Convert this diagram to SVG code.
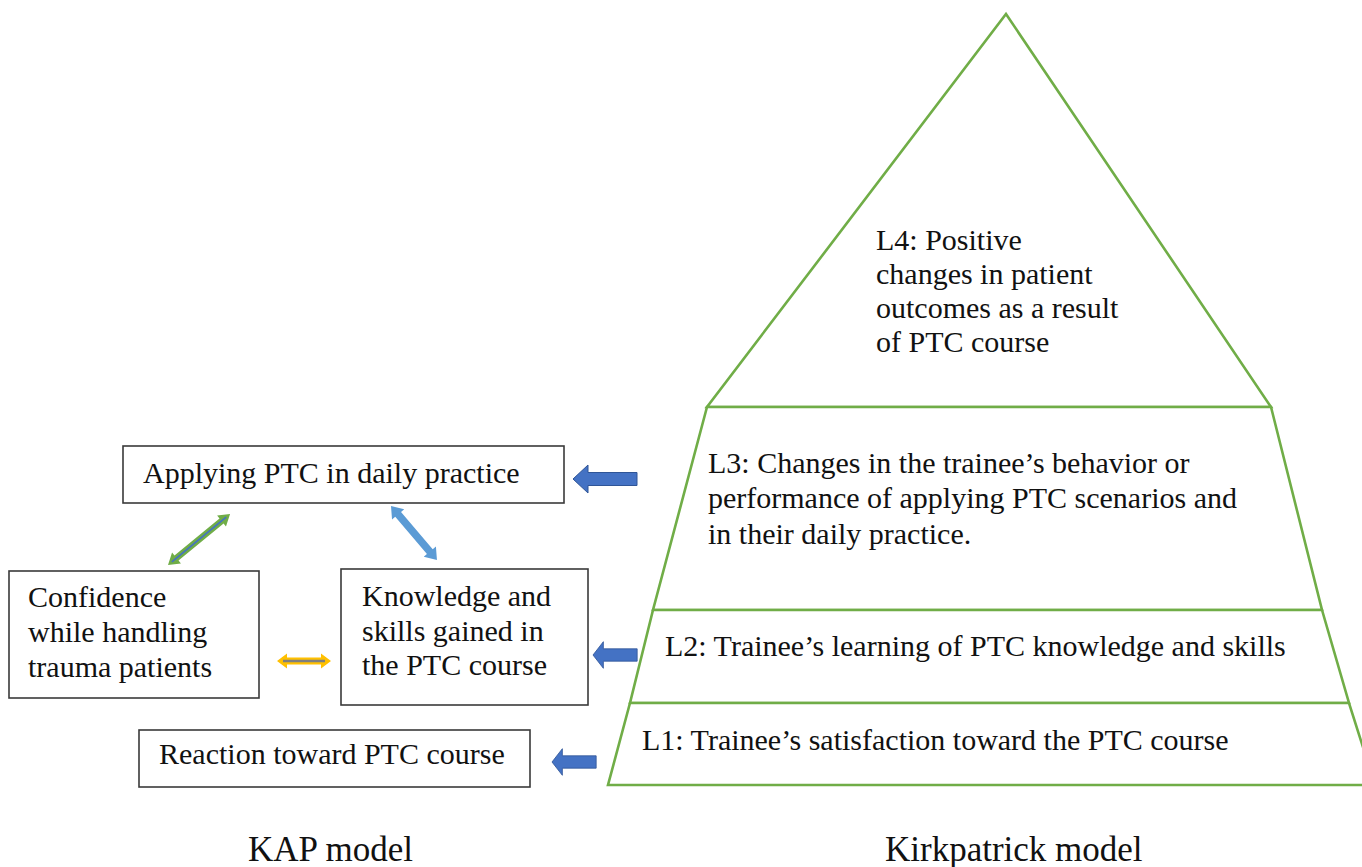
<svg xmlns="http://www.w3.org/2000/svg" width="1362" height="867" viewBox="0 0 1362 867">
<style>
.bg{fill:#ffffff}
.box{fill:#ffffff;stroke:#3a3a3a;stroke-width:1.6}
.lvl{fill:#ffffff;stroke:#70AD47;stroke-width:2.6;stroke-linejoin:miter}
.t{font-family:"Liberation Serif","Times New Roman",serif;font-size:30px;fill:#111111}
.lab{font-family:"Liberation Serif","Times New Roman",serif;font-size:35px;fill:#111111}
.blk{fill:#4472C4;stroke:#2F5597;stroke-width:1}
</style>
<defs>
<path id="blockArrow" d="M0,0 L15,-14 L15,-6.5 L64,-6.5 L64,6.5 L15,6.5 L15,14 Z"/>
</defs>
<rect class="bg" x="0" y="0" width="1362" height="867"/>

<g id="pyramid-L4">
<polygon class="lvl" points="1006,14 1271,407 707,407"/>
<text class="t" x="876" y="250">L4: Positive</text>
<text class="t" x="876" y="284">changes in patient</text>
<text class="t" x="876" y="318">outcomes as a result</text>
<text class="t" x="876" y="352">of PTC course</text>
</g>
<g id="pyramid-L3">
<polygon class="lvl" points="707,407 1271,407 1322,610 653,610"/>
<text class="t" x="708" y="473">L3: Changes in the trainee’s behavior or</text>
<text class="t" x="708" y="508">performance of applying PTC scenarios and</text>
<text class="t" x="708" y="544">in their daily practice.</text>
</g>
<g id="pyramid-L2">
<polygon class="lvl" points="653,610 1322,610 1349,703 630,703"/>
<text class="t" x="665" y="656">L2: Trainee’s learning of PTC knowledge and skills</text>
</g>
<g id="pyramid-L1">
<polygon class="lvl" points="630,703 1349,703 1375,785 608,785"/>
<text class="t" x="642" y="750">L1: Trainee’s satisfaction toward the PTC course</text>
</g>

<g id="node-applying">
<rect class="box" x="123" y="446" width="441" height="57"/>
<text class="t" x="143" y="483">Applying PTC in daily practice</text>
</g>
<g id="node-confidence">
<rect class="box" x="9" y="571" width="250" height="127"/>
<text class="t" x="28" y="607">Confidence</text>
<text class="t" x="28" y="642">while handling</text>
<text class="t" x="28" y="677">trauma patients</text>
</g>
<g id="node-knowledge">
<rect class="box" x="341" y="569" width="247" height="136"/>
<text class="t" x="362" y="606">Knowledge and</text>
<text class="t" x="362" y="641">skills gained in</text>
<text class="t" x="362" y="675">the PTC course</text>
</g>
<g id="node-reaction">
<rect class="box" x="139" y="730" width="391" height="57"/>
<text class="t" x="159" y="764">Reaction toward PTC course</text>
</g>

<g id="connectors">
<use href="#blockArrow" class="blk" transform="translate(573,479)"/>
<use href="#blockArrow" class="blk" transform="translate(593,655) scale(0.69,0.95)"/>
<use href="#blockArrow" class="blk" transform="translate(552,762) scale(0.69,0.95)"/>

<g transform="translate(168,565) rotate(-39.4)">
<polygon fill="#70AD47" points="0,0 11,-7 11,-3.2 69.3,-3.2 69.3,-7 80.3,0 69.3,7 69.3,3.2 11,3.2 11,7"/>
<line x1="5" y1="0" x2="75.3" y2="0" stroke="#4472C4" stroke-width="1.6"/>
</g>
<g transform="translate(391,506) rotate(49.6)">
<polygon fill="#5B9BD5" points="0,0 11,-8 11,-3.8 59.9,-3.8 59.9,-8 70.9,0 59.9,8 59.9,3.8 11,3.8 11,8"/>
</g>
<g transform="translate(277,661)">
<polygon fill="#FFC000" points="0,0 10,-7.5 10,-3.5 44,-3.5 44,-7.5 54,0 44,7.5 44,3.5 10,3.5 10,7.5"/>
<line x1="6" y1="0" x2="48" y2="0" stroke="#7F7F7F" stroke-width="2.6"/>
</g>
</g>

<text class="lab" x="248" y="861">KAP model</text>
<text class="lab" x="885" y="861">Kirkpatrick model</text>
</svg>
